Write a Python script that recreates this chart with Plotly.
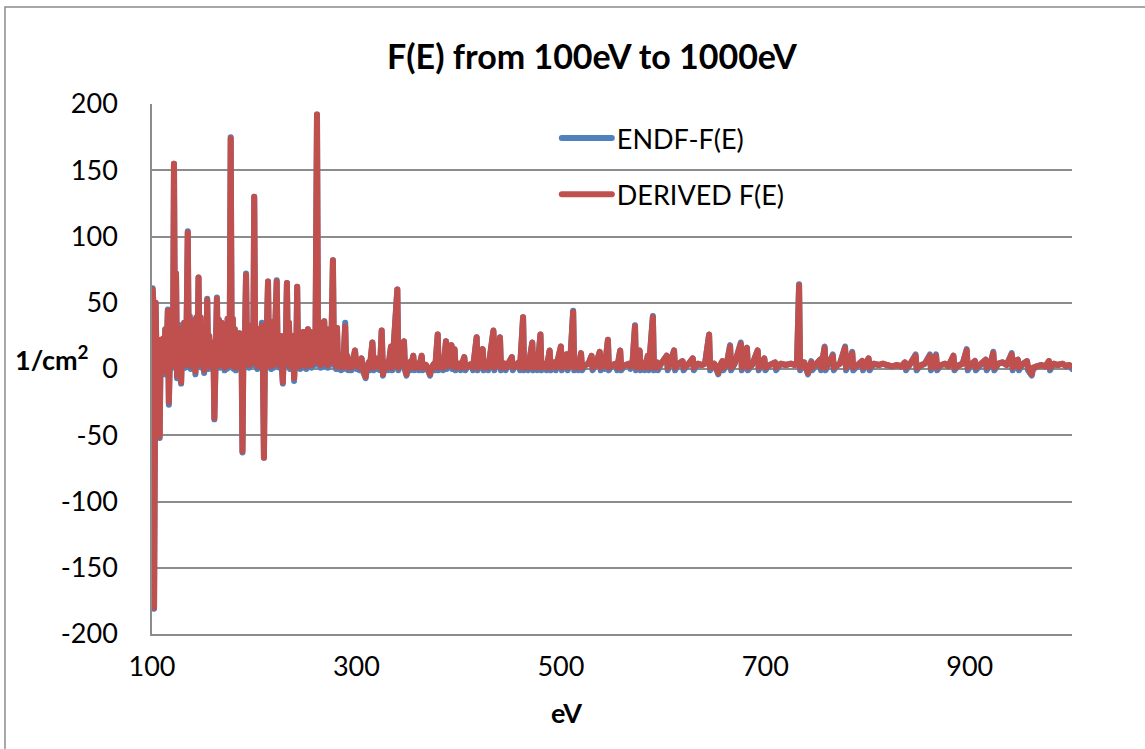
import plotly.graph_objects as go

energy_ev = [
    100, 100.6, 101.3, 102, 102.7, 103.5, 104.5, 105.5, 106.5, 107.5, 108.5, 110, 111, 112, 113, 114,
    115.5, 116.5, 117.5, 118.5, 119.5, 120.5, 121.5, 122.5, 123.5, 124.5, 125.5, 126.5, 127.5, 128.5,
    129.5, 130.5, 131.5, 132.5, 133.5, 135, 136, 137, 138, 139.5, 140.5, 141.5, 142.5, 143.5, 144.5,
    145.5, 146.5, 147.5, 148.5, 150, 151, 152, 153, 154, 155, 156, 157, 158, 159, 160, 161, 162,
    163.5, 164.5, 165.5, 166.5, 168, 169, 170, 171, 172, 173, 174, 175, 176, 177, 178, 179, 180,
    181, 182, 183, 184, 185.5, 186.5, 187.5, 188.5, 189.5, 190.5, 192, 193, 194, 195, 196, 197,
    198, 199, 200, 201, 202, 203, 204, 205, 206, 207.5, 208.5, 209.5, 210.5, 211.5, 213.5, 214.5,
    215.5, 216.5, 218, 219, 220.5, 222, 223, 224, 225, 226, 227, 228, 229, 230.5, 232, 233, 234,
    235, 236, 237, 238, 239, 240, 241, 242, 243, 244, 245, 246, 247, 248, 249, 250, 251, 252.5,
    253.5, 255, 256, 257.5, 258.5, 260, 261.4, 262.5, 264, 265, 266, 267, 268.5, 269.5, 271, 272,
    273, 274, 275.5, 277, 278, 279, 280, 281, 282, 284, 285, 286, 287, 289, 290, 291, 292, 294,
    295, 298.6, 300, 302, 303, 305, 306, 309, 310, 312, 313, 315.6, 317, 319, 320, 322, 323, 324.7,
    326, 327, 330, 331, 333.8, 335, 340, 341, 343, 346.5, 347.5, 349, 350, 352, 353, 355.6, 356.6,
    360, 361, 363.8, 364.8, 368, 372, 373, 376, 377, 379.5, 380.5, 384, 385, 387.6, 388.6, 393,
    394, 396, 397, 401, 402, 405.5, 406.5, 410, 413, 414, 417.6, 418.6, 421, 423.5, 424.5, 428,
    429, 434, 435, 437, 440.4, 441.4, 445, 446, 452, 453, 456, 459, 460, 463, 464, 467, 468, 472,
    473, 476, 477, 480, 481, 485, 486, 489, 490, 494, 495, 500, 501, 505.7, 506.7, 509, 512, 513,
    516, 517, 519.7, 520.7, 524, 527, 530, 531, 534, 538, 539, 542, 543, 546, 547, 550, 554, 555,
    558, 559, 563, 567, 568, 570, 572.5, 573.5, 577, 578, 581, 582, 585, 586, 590, 591, 594, 595,
    598, 603.5, 604.5, 607, 610.7, 611.7, 615, 619, 620, 624, 629, 630, 634, 638, 641, 645, 646,
    650, 654, 655, 658, 659, 662, 665.5, 666.5, 670, 676, 677, 679, 682, 683, 687, 692.5, 693.5,
    696, 699, 700, 704, 709.5, 710.5, 715, 720, 725, 729, 731, 733, 734, 738, 741.7, 742.7, 745,
    746, 749, 753.5, 754.5, 758, 759, 762, 766, 767, 770, 773, 778, 779, 785, 786, 790, 794.6,
    795.6, 801, 802, 806, 811, 815, 819, 824, 829, 833, 836.6, 837.6, 841, 847, 848, 852, 856, 861,
    862, 867, 868, 872, 876, 879, 884, 885, 889, 893, 897, 898, 902, 905, 906, 910, 915.5, 916.5,
    920, 923, 924, 928, 932, 936, 941, 942, 944, 947, 948, 952, 956, 957, 960.6, 961.6, 965, 970,
    974, 977.5, 978.5, 982, 986, 991, 994, 997, 1000,
]

derived_fe = [
    2, 60, 50, -180, 30, 50, 5, 20, 2, -51, 22, 5, 23, -2, 30, 3,
    44, -25, 10, 2, 30, 5, 155, 8, 72, -5, 31, 0, 30, -10,
    20, 5, 35, 3, 10, 103, 5, 38, 2, 36, 4, 20, -2, 39, 5,
    69, 10, 39, 3, 25, -1, 30, 5, 52, 2, 25, 5, 15, 2, 20, -37, 10,
    53, 5, 37, 3, 35, 5, 22, 1, 30, 2, 38, 3, 20, 174, 5, 38, 2,
    30, 1, 20, 3, 27, 2, 20, -62, 20, 5, 71, 10, 30, 3, 25, 5,
    33, 5, 130, 8, 25, 2, 30, 5, 20, 33, 3, -67, 15, 3, 66, 5,
    36, 2, 20, 3, 30, 66, 5, 20, 3, 25, 4, -10, 15, 5, 65, 5, 35,
    2, 20, 3, 25, -7, 10, 3, 62, 5, 24, 2, 20, 3, 28, 3, 25, 2, 30,
    4, 28, 3, 25, 5, 30, 192, 5, 33, 3, 35, 4, 36, 5, 30, 3,
    25, 5, 20, 82, 5, 10, 2, 31, 2, 5, 1, 10, 2, 32, 2, 10, 1, 6,
    1, 14, 2, 5, 1, 8, 1, -6, 1, 5, 1, 20, 1, 8, 2, 5, 1, 29,
    -4, 2, 5, 1, 17, 1, 60, 1, 5, 21, 1, -4, 2, 5, 1, 10, 1,
    4, 1, 10, 1, 3, -4, 1, 4, 1, 26, 1, 5, 1, 21, 2, 18,
    2, 15, 1, 4, 1, 9, 1, 3, 4, 1, 24, 1, 5, 15, 1, 4,
    1, 29, 1, 5, 24, 1, 4, 1, 9, 1, 3, 5, 1, 39, 1, 4, 1, 20,
    1, 4, 1, 26, 1, 4, 1, 14, 1, 5, 1, 17, 1, 11, 1, 4, 43, 1,
    5, 1, 12, 1, 3, 4, 10, 1, 3, 13, 1, 9, 2, 22, 1, 3, 4, 1,
    14, 1, 3, 4, 2, 4, 32, 1, 14, 1, 4, 1, 10, 1, 39, 1, 5, 1,
    4, 10, 1, 4, 14, 1, 4, 6, 1, 3, 8, 1, 4, 3, 4, 26, 1,
    4, -3, 2, 6, 1, 3, 17, 1, 4, 19, 1, 4, 16, 1, 3, 14, 1,
    4, 8, 1, 3, 5, 1, 4, 3, 4, 3, 5, 63, 1, 5, -3, 1, 5,
    1, 3, 7, 1, 16, 1, 5, 10, 1, 3, 4, 16, 1, 12, 1, 3, 6,
    1, 8, 1, 4, 3, 4, 3, 2, 3, 2, 5, 1, 3, 10, 1, 3, 4, 10,
    1, 10, 1, 3, 4, 2, 10, 1, 3, 4, 14, 1, 4, 6, 1, 3, 7, 1,
    3, 12, 1, 4, 5, 3, 11, 1, 6, 7, 1, 4, 6, 1, -4, 1, 2, 3,
    2, 6, 1, 4, 3, 4, 2, 3, 2,
]

endf_fe = [
    0, 61, 50, -181, 30, 50, 3, 20, 0, -52, 22, 3, 23, -4, 30, 1,
    45, -27, 10, 0, 30, 3, 155, 6, 72, -7, 31, -2, 33, -11,
    20, 3, 35, 1, 10, 104, 3, 40, 0, 37, 2, 20, -4, 39, 3,
    69, 10, 39, 1, 25, -3, 30, 3, 53, 0, 25, 3, 17, 0, 20, -38, 10,
    54, 3, 37, 1, 35, 3, 22, -1, 30, 0, 38, 1, 20, 175, 3, 38, 0,
    30, -1, 20, 1, 27, 0, 25, -63, 20, 3, 72, 10, 33, 1, 25, 3,
    33, 3, 130, 6, 25, 0, 30, 3, 20, 35, 1, -67, 15, 1, 66, 3,
    36, 0, 20, 1, 30, 67, 3, 20, 1, 25, 2, -11, 15, 3, 65, 3, 35,
    0, 20, 1, 25, -9, 10, 1, 62, 3, 24, 0, 20, 1, 28, 1, 25, 0, 30,
    2, 28, 1, 25, 3, 30, 192, 3, 33, 1, 35, 2, 36, 3, 30, 1,
    25, 3, 20, 82, 3, 10, 0, 31, 0, 5, -1, 10, 0, 35, 0, 10, -1, 6,
    -1, 14, 0, 5, -1, 8, -1, -7, -1, 5, -1, 20, -1, 8, 0, 5, -1, 29,
    -5, 0, 5, -1, 17, -1, 60, -1, 5, 21, -1, -5, 0, 5, -1, 10, -1,
    4, -1, 10, -1, 3, -5, -1, 4, -1, 26, -1, 5, -1, 21, 0, 18,
    0, 15, -1, 4, -1, 9, -1, 3, 4, -1, 24, -1, 5, 15, -1, 4,
    -1, 29, -1, 5, 24, -1, 4, -1, 9, -1, 3, 5, -1, 39, -1, 4, -1, 20,
    -1, 4, -1, 26, -1, 4, -1, 14, -1, 5, -1, 17, -1, 11, -1, 4, 44, -1,
    5, -1, 12, -1, 3, 4, 10, -1, 3, 13, -1, 9, 0, 22, -1, 3, 4, -1,
    14, -1, 3, 4, 0, 4, 33, -1, 14, -1, 4, -1, 10, -1, 40, -1, 5, -1,
    4, 10, -1, 4, 14, -1, 4, 6, -1, 3, 8, -1, 4, 3, 4, 26, -1,
    4, -4, 0, 6, -1, 3, 18, -1, 4, 20, -1, 4, 16, -1, 3, 14, -1,
    4, 8, -1, 3, 5, -1, 4, 3, 4, 3, 5, 64, -1, 5, -4, -1, 6,
    -1, 3, 7, -1, 17, -1, 5, 11, -1, 3, 4, 17, -1, 13, -1, 3, 6,
    -1, 8, -1, 4, 3, 4, 3, 2, 3, 2, 5, -1, 3, 11, -1, 3, 4, 11,
    -1, 11, -1, 3, 4, 2, 10, -1, 3, 4, 15, -1, 4, 6, -1, 3, 7, -1,
    3, 13, -1, 4, 5, 3, 12, -1, 6, 7, -1, 4, 6, -1, -5, -1, 2, 3,
    2, 6, -1, 4, 3, 4, 2, 3, 0,
]

x_ticks = [100, 300, 500, 700, 900]
y_ticks = [-200, -150, -100, -50, 0, 50, 100, 150, 200]
y_tick_text = ["-200", "-150", "-100", "-50", "0", "50", "100", "150", "200"]

FONT = "Lato, 'Open Sans', sans-serif"
GRID = "#8c8c8c"

fig = go.Figure()
fig.add_trace(go.Scatter(x=energy_ev, y=endf_fe, mode="lines", name="ENDF-F(E)",
                         line=dict(color="#4f81bd", width=6), legendgroup="a"))
fig.add_trace(go.Scatter(x=energy_ev, y=derived_fe, mode="lines", name="DERIVED F(E)",
                         line=dict(color="#c0504d", width=6), legendgroup="b"))

fig.update_layout(
    width=1145, height=749,
    margin=dict(l=152, r=73, t=104, b=115, autoexpand=False),
    paper_bgcolor="white", plot_bgcolor="white",
    font=dict(family=FONT, size=27, color="#000000"),
    title=dict(text="<b>F(E) from 100eV to 1000eV</b>", x=592 / 1145, xanchor="center",
               y=1 - 57 / 749, yanchor="middle", font=dict(size=34, family=FONT)),
    showlegend=True,
    legend=dict(x=0.440, y=0.981, xanchor="left", yanchor="top", bgcolor="rgba(0,0,0,0)",
                font=dict(size=27, family=FONT), tracegroupgap=18, itemwidth=50),
    xaxis=dict(range=[100, 1000], tickvals=x_ticks, showgrid=False, zeroline=False,
               showline=True, linecolor=GRID, linewidth=1.5, ticks="outside", ticklen=8,
               tickcolor="rgba(0,0,0,0)", tickfont=dict(size=27), automargin=False),
    yaxis=dict(range=[-200, 200], tickvals=y_ticks, ticktext=y_tick_text, showgrid=True,
               gridcolor=GRID, gridwidth=1.5, zeroline=False, showline=True, linecolor=GRID,
               linewidth=1.5, ticks="outside", ticklen=27, tickcolor="rgba(0,0,0,0)",
               tickfont=dict(size=27), automargin=False),
    annotations=[
        dict(text="<b>1/cm<sup>2</sup></b>", xref="paper", yref="paper", x=-0.109, y=0.521,
             showarrow=False, font=dict(size=27, family=FONT), xanchor="center", yanchor="middle"),
        dict(text="<b>eV</b>", xref="paper", yref="paper", x=0.451, y=-0.149,
             showarrow=False, font=dict(size=27, family=FONT), xanchor="center", yanchor="middle"),
    ],
    shapes=[
        dict(type="rect", xref="paper", yref="paper", x0=-0.1598, y0=-0.3, x1=1.2, y1=1.183,
             line=dict(color=GRID, width=1.5), layer="below"),
    ],
)

post = (
    "document.body.style.margin='0px';"
    "document.querySelectorAll('.scatterlayer path.js-line, .legend path').forEach(function(p){"
    "p.style.strokeLinejoin='round';p.style.strokeLinecap='round';});"
)
fig.write_html("out.html", config={"displayModeBar": False}, post_script=post)
